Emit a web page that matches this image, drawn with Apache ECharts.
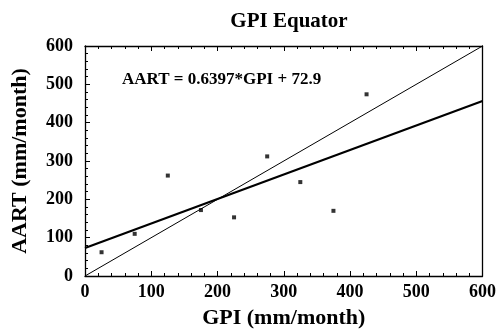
<!DOCTYPE html>
<html><head><meta charset="utf-8">
<script src="https://cdn.jsdelivr.net/npm/echarts@6/dist/echarts.min.js"></script>
<style>html,body{margin:0;padding:0;background:#fff}#c{width:499px;height:335px}</style>
</head><body><div id="c"></div>
<script>
var gpi = [25, 75, 125, 175, 225, 275, 325, 375, 425];
var aart = [62, 110, 262, 172, 153, 312, 245, 170, 474];
var slope = 0.6397, intercept = 72.9;
var lineX = [0, 600];
var titleText = 'GPI Equator';
var eqText = 'AART = 0.6397*GPI + 72.9';

var font = '"Liberation Serif", "DejaVu Serif", serif';
var chart = echarts.init(document.getElementById('c'));
var axisCommon = {
  type: 'value', min: 0, max: 600, interval: 100,
  axisLine: {show: true, onZero: false, lineStyle: {color: '#000', width: 1.3}},
  axisTick: {show: true, inside: true, length: 5, lineStyle: {color: '#000'}},
  minorTick: {show: true, splitNumber: 5, length: 3, lineStyle: {color: '#000'}},
  splitLine: {show: false},
  axisLabel: {color: '#000', fontFamily: font, fontWeight: 'bold', fontSize: 18}
};
var nameStyle = {fontFamily: font, fontWeight: 'bold', fontSize: 22, color: '#000'};
chart.setOption({
  backgroundColor: '#fff',
  animation: false,
  title: {text: titleText, left: 284, top: 6, textAlign: 'center',
    textStyle: {fontFamily: font, fontWeight: 'bold', fontSize: 21, color: '#000'}},
  grid: {left: 85, right: 16, top: 46, bottom: 59},
  xAxis: [
    Object.assign({}, axisCommon, {position: 'bottom', name: 'GPI (mm/month)', nameLocation: 'middle', nameGap: 31,
      nameTextStyle: nameStyle,
      axisLabel: Object.assign({}, axisCommon.axisLabel, {margin: 7})}),
    Object.assign({}, axisCommon, {position: 'top', axisLabel: {show: false}})
  ],
  yAxis: [
    Object.assign({}, axisCommon, {position: 'left', name: 'AART (mm/month)', nameLocation: 'middle', nameGap: 54,
      nameTextStyle: nameStyle,
      axisLabel: Object.assign({}, axisCommon.axisLabel, {margin: 12})}),
    Object.assign({}, axisCommon, {position: 'right', axisTick: {show: false}, minorTick: {show: false}, axisLabel: {show: false}})
  ],
  graphic: [{type: 'text', left: 122, top: 71, style: {text: eqText, fontFamily: font, fontWeight: 'bold', fontSize: 17, fill: '#000'}}],
  series: [
    {type: 'scatter', data: gpi.map(function(x, i){return [x, aart[i]];}), symbol: 'rect', symbolSize: 4,
      itemStyle: {color: '#000'}, z: 5},
    {type: 'line', data: lineX.map(function(x){return [x, x];}), symbol: 'none',
      lineStyle: {color: '#000', width: 1}},
    {type: 'line', data: lineX.map(function(x){return [x, slope * x + intercept];}), symbol: 'none',
      lineStyle: {color: '#000', width: 2.2}}
  ]
});
</script></body></html>
